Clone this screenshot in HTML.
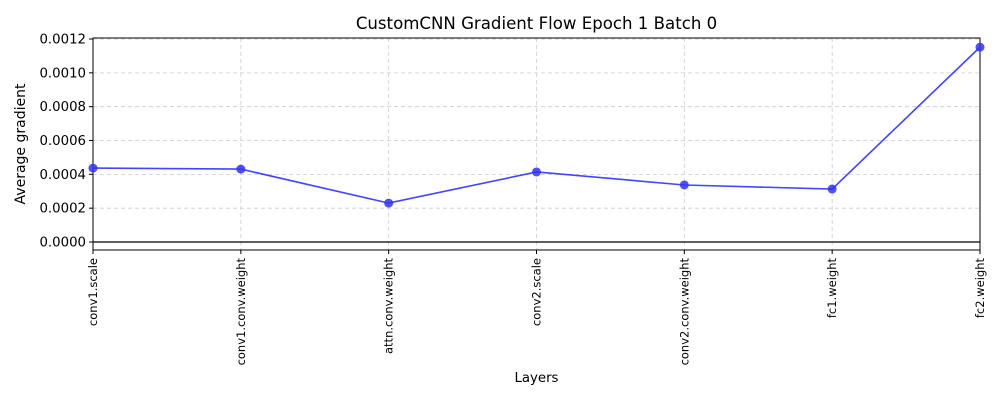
<!DOCTYPE html>
<html><head><meta charset="utf-8"><style>
body{margin:0;background:#fff;font-family:"DejaVu Sans","Liberation Sans",sans-serif;}
svg text{font-family:"DejaVu Sans","Liberation Sans",sans-serif;}
</style></head><body>
<svg id="chart" width="1000" height="400" xmlns="http://www.w3.org/2000/svg"></svg>
<script>
const categories=["conv1.scale","conv1.conv.weight","attn.conv.weight","conv2.scale","conv2.conv.weight","fc1.weight","fc2.weight"];
const gradients=[0.000437,0.000431,0.000230,0.000414,0.000337,0.000313,0.001152];
const yTicks=[0,0.0002,0.0004,0.0006,0.0008,0.0010,0.0012];
const yTickLabels=["0.0000","0.0002","0.0004","0.0006","0.0008","0.0010","0.0012"];
const L=93,R=980,T=38,B=250,yMin=-0.0000473,yMax=0.001206;
const xs=i=>L+(R-L)*i/(categories.length-1);
const ys=v=>B-(v-yMin)/(yMax-yMin)*(B-T);
const svg=document.getElementById('chart');
const NS="http://www.w3.org/2000/svg";
function mk(tag,attrs,parent){const e=document.createElementNS(NS,tag);for(const k in attrs)e.setAttribute(k,attrs[k]);(parent||svg).appendChild(e);return e;}
yTicks.forEach((t,i)=>{
  const g=mk('line',{x1:L,x2:R,y1:ys(t),y2:ys(t),stroke:'#cccccc','stroke-dasharray':'4,3','stroke-width':0.8});
  
  
  const tk=mk('line',{x1:L-4,x2:L,y1:ys(t),y2:ys(t),stroke:'#000'});
  
  
  const tx=mk('text',{x:L-7,y:ys(t)+4.5,'text-anchor':'end','font-size':13.3});
  tx.textContent=yTickLabels[i];
  
  
});
categories.forEach((c,i)=>{
  const g=mk('line',{x1:xs(i),x2:xs(i),y1:T,y2:B,stroke:'#cccccc','stroke-dasharray':'4,3','stroke-width':0.8});
  
  
  const tk=mk('line',{x1:xs(i),x2:xs(i),y1:B,y2:B+4,stroke:'#000'});
  
  
  const tx=mk('text',{x:0,y:0,'text-anchor':'end','font-size':11.5,transform:`translate(${xs(i)+4},${B+8}) rotate(-90)`});
  tx.textContent=c;
  
  
});
const zl=mk('line',{x1:L,x2:R,y1:ys(0),y2:ys(0),stroke:'#000','stroke-width':1.2});


const fr=mk('rect',{x:L,y:T,width:R-L,height:B-T,fill:'none',stroke:'#000','stroke-width':1});


const pl=mk('polyline',{points:gradients.map((v,i)=>xs(i)+','+ys(v)).join(' '),fill:'none',stroke:'#4444ff','stroke-width':1.6});


gradients.forEach((v,i)=>{
  const c=mk('circle',{cx:xs(i),cy:ys(v),r:4.5,fill:'#3333ee','fill-opacity':0.85});
  
  
});
const tt=mk('text',{x:(L+R)/2,y:29,'text-anchor':'middle','font-size':16.6});
tt.textContent="CustomCNN Gradient Flow Epoch 1 Batch 0";


const xt=mk('text',{x:(L+R)/2,y:382,'text-anchor':'middle','font-size':13.3});
xt.textContent="Layers";


const yt=mk('text',{x:0,y:0,'text-anchor':'middle','font-size':14,transform:`translate(25,${(T+B)/2}) rotate(-90)`});
yt.textContent="Average gradient";


</script>
</body></html>
